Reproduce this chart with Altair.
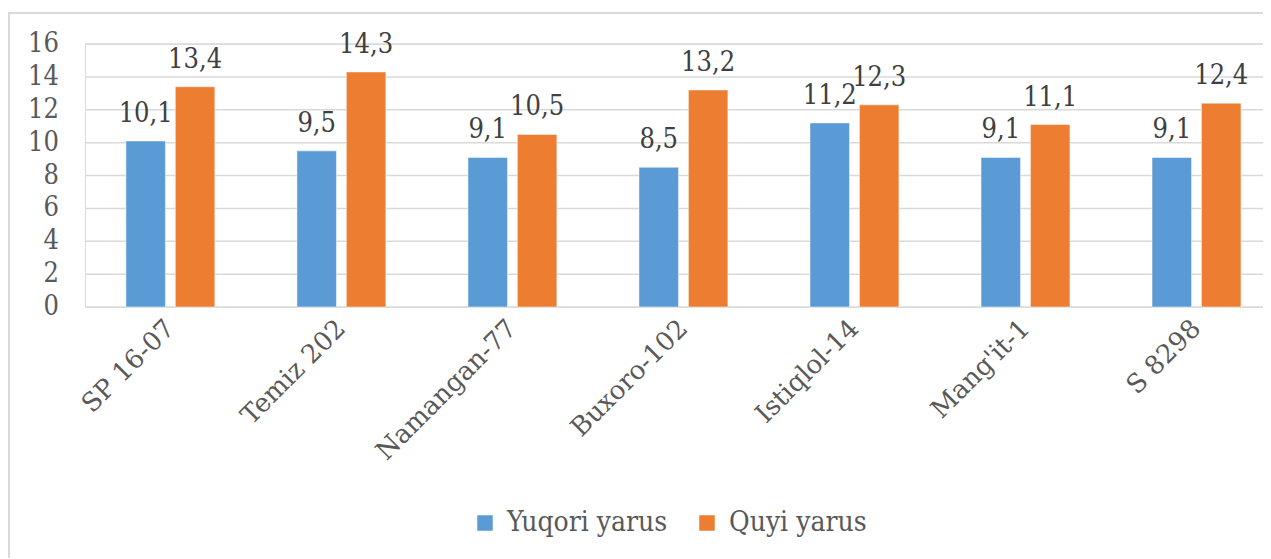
import altair as alt
import pandas as pd

categories = ["SP 16-07", "Temiz 202", "Namangan-77", "Buxoro-102", "Istiqlol-14", "Mang'it-1", "S 8298"]
series = ["Yuqori yarus", "Quyi yarus"]
yuqori = [10.1, 9.5, 9.1, 8.5, 11.2, 9.1, 9.1]
quyi = [13.4, 14.3, 10.5, 13.2, 12.3, 11.1, 12.4]
y_ticks = [0, 2, 4, 6, 8, 10, 12, 14, 16]
colors = ["#5B9BD5", "#ED7D31"]

rows = []
for i, c in enumerate(categories):
    for s, vals in zip(series, [yuqori, quyi]):
        v = vals[i]
        rows.append({"cat": c, "series": s, "value": v,
                     "label": f"{v:.1f}".replace(".", ",")})
df = pd.DataFrame(rows)
ticks_df = pd.DataFrame({"t": y_ticks, "tl": [str(t) for t in y_ticks]})

FONT_C = "DejaVu Serif Condensed"
FONT = "DejaVu Serif"

x_enc = alt.X("cat:N", sort=categories, title=None,
              scale=alt.Scale(paddingInner=0.48, paddingOuter=0.184, align=0.65),
              axis=alt.Axis(labelAngle=-45, labelAlign="right", labelBaseline="middle",
                            labelFontSize=26, labelColor="#595959", labelFont=FONT,
                            labelPadding=17, labelLimit=400, ticks=False, domain=False,
                            grid=False, labelOverlap=False))
xoff = alt.XOffset("series:N", sort=series, scale=alt.Scale(paddingInner=0.2))
yscale = alt.Scale(domain=[0, 16], nice=False)
y_enc = alt.Y("value:Q", title=None, scale=yscale, axis=None)

base = alt.Chart(df)

frame = base.mark_rect(fill=None, stroke="#D9D9D9", strokeWidth=1.5).encode(
    x=alt.value(-76), x2=alt.value(1400), y=alt.value(-31), y2=alt.value(700)
)

grid = alt.Chart(ticks_df).mark_rule(color="#D9D9D9", strokeWidth=1.5).encode(
    y=alt.Y("t:Q", scale=yscale, axis=None), x=alt.value(0), x2=alt.value(1178)
)
ylabels = alt.Chart(ticks_df).mark_text(
    font=FONT_C, fontSize=27, color="#595959", align="right", baseline="middle"
).encode(
    y=alt.Y("t:Q", scale=yscale, axis=None), x=alt.value(-26), text="tl:N"
)

bars = base.mark_bar(stroke="white", strokeWidth=0.5).encode(
    x=x_enc, xOffset=xoff, y=y_enc,
    color=alt.Color("series:N", sort=series,
                    scale=alt.Scale(domain=series, range=colors),
                    legend=alt.Legend(title=None, orient="none", direction="horizontal",
                                      legendX=386, legendY=465,
                                      symbolType="square", symbolSize=240,
                                      symbolStrokeWidth=0,
                                      labelFontSize=28, labelFont=FONT_C,
                                      labelLimit=400,
                                      labelColor="#595959", labelOffset=8,
                                      columnPadding=25))
)

labels = base.mark_text(fontSize=27, color="#404040", font=FONT_C,
                        baseline="alphabetic", dy=-19).encode(
    x=x_enc, xOffset=xoff, y=y_enc, text="label:N"
)

chart = alt.layer(frame, grid, ylabels, bars, labels).properties(
    width=1178, height=263,
    autosize=alt.AutoSizeParams(type="none"),
    padding={"left": 77, "top": 36, "right": 0, "bottom": 251},
).configure_view(stroke=None).configure(background="white")

chart.save("out.html", embed_options={"renderer": "svg", "actions": False})
